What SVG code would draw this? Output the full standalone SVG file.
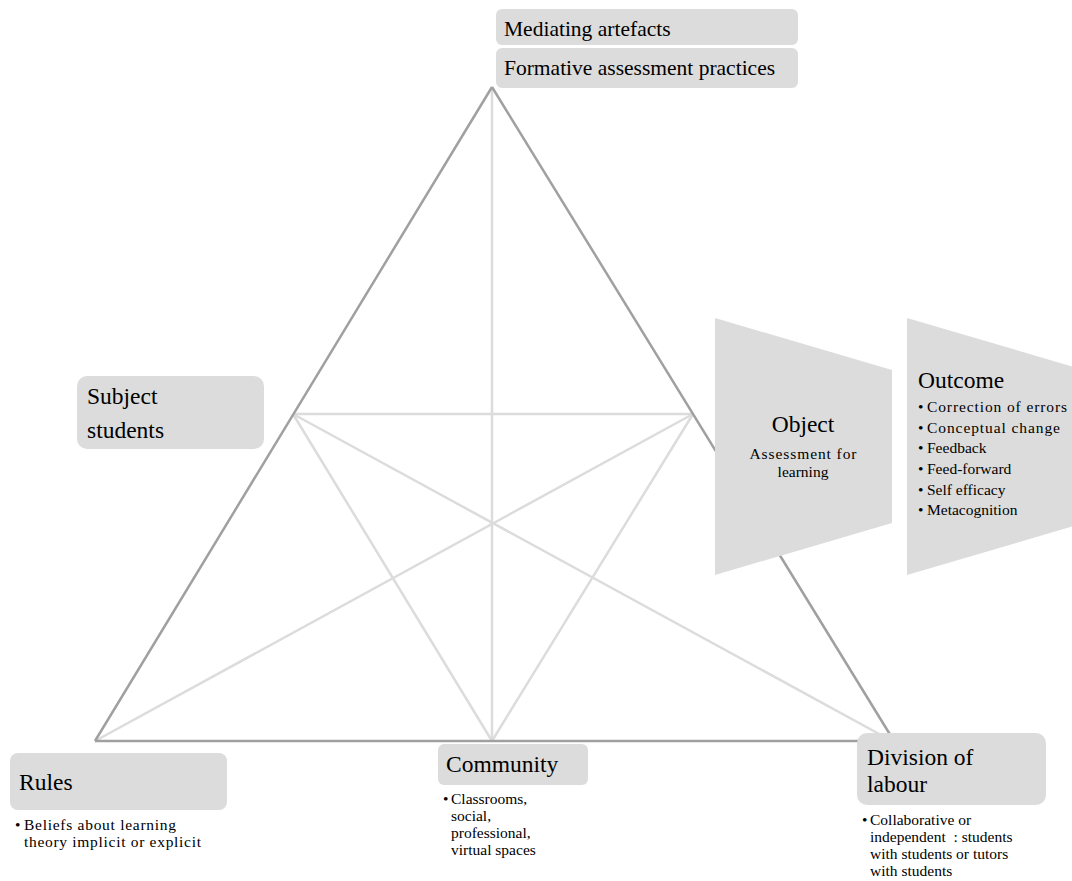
<svg xmlns="http://www.w3.org/2000/svg" width="1072" height="881" viewBox="0 0 1072 881">
<style>
.box{fill:#dcdcdc}
.light{stroke:#dcdcdc;stroke-width:2.5;fill:none}
.dark{stroke:#a0a0a0;stroke-width:2.5;fill:none}
</style>
<rect width="1072" height="881" fill="#fff"/>
<g id="connectors">
<line class="light" x1="293" y1="414" x2="693" y2="414"/>
<line class="light" x1="492" y1="87" x2="492" y2="741"/>
<line class="light" x1="293" y1="414" x2="492" y2="741"/>
<line class="light" x1="693" y1="414" x2="492" y2="741"/>
<line class="light" x1="95" y1="741" x2="693" y2="414"/>
<line class="light" x1="892" y1="741" x2="293" y2="414"/>
<line class="dark" x1="492" y1="87" x2="95" y2="741"/>
<line class="dark" x1="492" y1="87" x2="894" y2="741"/>
<line class="dark" x1="95" y1="741" x2="894" y2="741"/>
</g>
<g id="mediating">
<rect class="box" x="496" y="9" width="302" height="36" rx="6"/>
<text font-family="Liberation Serif, serif" font-size="21.5" x="504" y="36">Mediating artefacts</text>
<rect class="box" x="496" y="48" width="302" height="40" rx="6"/>
<text font-family="Liberation Serif, serif" font-size="21.5" x="504" y="75">Formative assessment practices</text>
</g>
<g id="subject">
<rect class="box" x="77" y="376" width="187" height="73" rx="10"/>
<text font-family="Liberation Serif, serif" font-size="23.5" x="87" y="404">Subject</text>
<text font-family="Liberation Serif, serif" font-size="23.5" x="87" y="438">students</text>
</g>
<g id="object">
<polygon class="box" points="715,318 892,370 892,523 715,575"/>
<text font-family="Liberation Serif, serif" font-size="23.5" x="803" y="432" text-anchor="middle">Object</text>
<text font-family="Liberation Serif, serif" font-size="15.5" x="803" y="459" text-anchor="middle" textLength="107" lengthAdjust="spacing">Assessment for</text>
<text font-family="Liberation Serif, serif" font-size="15.5" x="803" y="477" text-anchor="middle">learning</text>
</g>
<g id="outcome">
<polygon class="box" points="907,318 1084,370 1084,523 907,575"/>
<text font-family="Liberation Serif, serif" font-size="23.5" x="918" y="388">Outcome</text>
<text font-family="Liberation Serif, serif" font-size="15.5" x="918" y="412">•</text><text font-family="Liberation Serif, serif" font-size="15.5" x="927" y="412" textLength="140" lengthAdjust="spacing">Correction of errors</text>
<text font-family="Liberation Serif, serif" font-size="15.5" x="918" y="433">•</text><text font-family="Liberation Serif, serif" font-size="15.5" x="927" y="433" textLength="133" lengthAdjust="spacing">Conceptual change</text>
<text font-family="Liberation Serif, serif" font-size="15.5" x="918" y="453">•</text><text font-family="Liberation Serif, serif" font-size="15.5" x="927" y="453">Feedback</text>
<text font-family="Liberation Serif, serif" font-size="15.5" x="918" y="474">•</text><text font-family="Liberation Serif, serif" font-size="15.5" x="927" y="474">Feed-forward</text>
<text font-family="Liberation Serif, serif" font-size="15.5" x="918" y="495">•</text><text font-family="Liberation Serif, serif" font-size="15.5" x="927" y="495">Self efficacy</text>
<text font-family="Liberation Serif, serif" font-size="15.5" x="918" y="515">•</text><text font-family="Liberation Serif, serif" font-size="15.5" x="927" y="515">Metacognition</text>
</g>
<g id="rules">
<rect class="box" x="10" y="753" width="217" height="57" rx="8"/>
<text font-family="Liberation Serif, serif" font-size="23.5" x="19" y="790">Rules</text>
<text font-family="Liberation Serif, serif" font-size="15.5" x="15" y="830">•</text><text font-family="Liberation Serif, serif" font-size="15.5" x="24" y="830" textLength="152" lengthAdjust="spacing">Beliefs about learning</text>
<text font-family="Liberation Serif, serif" font-size="15.5" x="24" y="847" textLength="177" lengthAdjust="spacing">theory implicit or explicit</text>
</g>
<g id="community">
<rect class="box" x="438" y="744" width="150" height="41" rx="6"/>
<text font-family="Liberation Serif, serif" font-size="23.5" x="446" y="772">Community</text>
<text font-family="Liberation Serif, serif" font-size="15.5" x="443" y="804">•</text><text font-family="Liberation Serif, serif" font-size="15.5" x="451" y="804">Classrooms,</text>
<text font-family="Liberation Serif, serif" font-size="15.5" x="451" y="821">social,</text>
<text font-family="Liberation Serif, serif" font-size="15.5" x="451" y="838">professional,</text>
<text font-family="Liberation Serif, serif" font-size="15.5" x="451" y="855">virtual spaces</text>
</g>
<g id="division">
<rect class="box" x="857" y="733" width="189" height="72" rx="10"/>
<text font-family="Liberation Serif, serif" font-size="23.5" x="867" y="765">Division of</text>
<text font-family="Liberation Serif, serif" font-size="23.5" x="867" y="792">labour</text>
<text font-family="Liberation Serif, serif" font-size="15.5" x="862" y="825">•</text><text font-family="Liberation Serif, serif" font-size="15.5" x="870" y="825">Collaborative or</text>
<text font-family="Liberation Serif, serif" font-size="15.5" x="870" y="842" xml:space="preserve">independent  : students</text>
<text font-family="Liberation Serif, serif" font-size="15.5" x="870" y="859">with students or tutors</text>
<text font-family="Liberation Serif, serif" font-size="15.5" x="870" y="876">with students</text>
</g>
</svg>
